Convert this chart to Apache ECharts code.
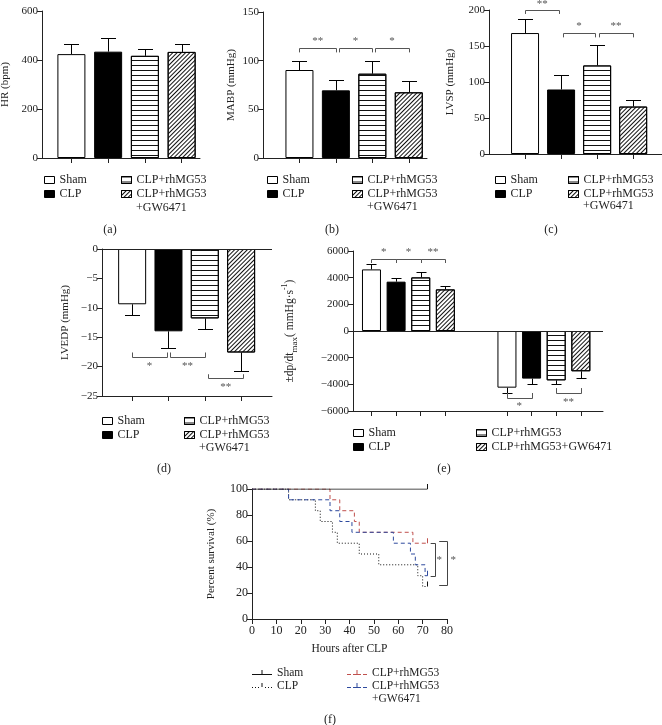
<!DOCTYPE html>
<html><head><meta charset="utf-8">
<script src="https://cdn.jsdelivr.net/npm/echarts@6/dist/echarts.min.js"></script>
<style>html,body{margin:0;padding:0;background:#fff}#c{width:662px;height:725px}</style>
</head><body><div id="c"></div>
<script>
// ---------------- data ----------------
const groups = ['Sham', 'CLP', 'CLP+rhMG53', 'CLP+rhMG53+GW6471'];
const barPos = [1, 2, 3, 4];

const hrMean = [424, 434, 417, 433];
const hrSD = [40, 57, 28, 34];
const hrTicks = [0, 200, 400, 600];

const mabpMean = [90.4, 69.5, 86.6, 67.5];
const mabpSD = [9.6, 10.6, 13.4, 12.0];
const mabpTicks = [0, 50, 100, 150];
// brackets: [x1, x2, lineY, tickEndY, labelY]
const mabpBrackets = [[1, 2, 113, 108.5, 120], [2.08, 3, 113, 108.5, 120], [3.08, 4, 113, 108.5, 120]];
const mabpStars = ['**', '*', '*'];

const lvspMean = [168, 89.6, 123, 65.9];
const lvspSD = [19.5, 20.4, 29, 9.3];
const lvspTicks = [0, 50, 100, 150, 200];
const lvspBrackets = [[1, 1.95, 200, 194.5, 208], [2.05, 2.95, 167.5, 162, 177], [3.05, 4, 167.5, 162, 177]];
const lvspStars = ['**', '*', '**'];

const lvedpMean = [-9.4, -14.0, -11.8, -17.6];
const lvedpSD = [1.8, 2.8, 1.8, 3.1];
const lvedpTicks = [0, -5, -10, -15, -20, -25];
const lvedpBrackets = [[1, 1.95, -18.4, -17.6, -19.9], [2.05, 3, -18.4, -17.6, -19.9], [3.1, 4.05, -21.9, -21.3, -23.5]];
const lvedpStars = ['*', '**', '**'];

const dpMaxPos = [1, 2, 3, 4];
const dpMinPos = [6.5, 7.5, 8.5, 9.5];
const dpMaxMean = [4620, 3700, 4020, 3120];
const dpMaxSD = [380, 250, 430, 250];
const dpMinMean = [-4250, -3570, -3700, -3020];
const dpMinSD = [400, 380, 300, 480];
const dpTicks = [-6000, -4000, -2000, 0, 2000, 4000, 6000];
const dpBrackets = [[1, 2, 5400, 5100, 5900], [2, 3, 5400, 5100, 5900], [3, 4, 5400, 5100, 5900],
                    [6.5, 7.5, -5020, -4650, -5600], [8.5, 9.5, -4620, -4280, -5300]];
const dpStars = ['*', '*', '**', '*', '**'];

const shamHours = [0, 72];
const shamSurv = [100, 100];
const clpHours = [0, 15, 26, 28, 33, 35, 44, 52, 68, 70, 72];
const clpSurv = [100, 91.7, 83.3, 75, 66.7, 58.3, 50, 41.7, 33.3, 25, 25];
const rhHours = [0, 32, 36, 42, 44, 66, 72];
const rhSurv = [100, 91.7, 83.3, 75, 66.7, 58.3, 58.3];
const gwHours = [0, 15, 32, 36, 41, 58, 65, 67, 71, 72];
const gwSurv = [100, 91.7, 83.3, 75, 66.7, 58.3, 50, 41.7, 33.3, 33.3];
// vertical brackets: [x, y1, y2, tickEndX, labelX, labelY]
const survBrackets = [[75, 58.3, 33.3, 73.3, 76.8, 45], [80, 60, 26, 76.8, 82.6, 45]];
const survStars = ['*', '*'];

// ---------------- styling ----------------
const FONT = 'Liberation Serif';
const INK = '#222';
const decalH = {symbol: 'rect', symbolSize: 1, color: '#111', dashArrayX: [1, 0], dashArrayY: [1, 4], rotation: 0};
const decalD = {symbol: 'rect', symbolSize: 1, color: '#111', dashArrayX: [1, 0], dashArrayY: [1, 2], rotation: -Math.PI / 4};
const barStyles = [
  {color: '#fff', borderColor: '#000', borderWidth: 1},
  {color: '#000', borderColor: '#000', borderWidth: 1},
  {color: '#fff', borderColor: '#000', borderWidth: 1, decal: decalH},
  {color: '#fff', borderColor: '#000', borderWidth: 1, decal: decalD}
];
const minus = v => String(v).replace('-', '\u2212');
const crisp = v => Math.round(v) + 0.5;
const TICK_SYMBOL = 'path://M0,0h2v10h-2z';
// legend icons for the survival curves (line + censor tick)
const ICON_TICK = ' M9.5,0h1v4h-1z';
const ICON_SOLID = 'path://M0,4h20v1h-20z' + ICON_TICK;
const ICON_DOTTED = 'path://M0,4h1v1h-1z M3,4h1v1h-1z M6,4h1v1h-1z M13,4h1v1h-1z M16,4h1v1h-1z M19,4h1v1h-1z' + ICON_TICK;
const ICON_DASHED = 'path://M0,4h4v1h-4z M6,4h4v1h-4z M10,4h4v1h-4z M16,4h4v1h-4z' + ICON_TICK;

const grids = [
  {left: 42, top: 11, width: 158, height: 147},
  {left: 263, top: 12, width: 164, height: 146},
  {left: 489, top: 10, width: 173, height: 144},
  {left: 102, top: 249, width: 170, height: 147},
  {left: 353, top: 251, width: 250, height: 160},
  {left: 252, top: 489, width: 195, height: 130}
].map(g => Object.assign({outerBoundsMode: 'none', containLabel: false}, g));

function yAx(gi, ticks, name, nameGap, fs) {
  const iv = Math.abs(ticks[1] - ticks[0]);
  return {type: 'value', gridIndex: gi, min: Math.min(...ticks), max: Math.max(...ticks), interval: iv,
    name: name, nameLocation: 'middle', nameGap: nameGap, nameRotate: 90, nameMoveOverlap: false,
    nameTextStyle: {fontFamily: FONT, fontSize: 11, color: INK},
    axisLine: {show: true, onZero: false, lineStyle: {color: INK, width: 1}},
    axisTick: {show: true, length: 5, lineStyle: {color: INK}},
    axisLabel: {fontFamily: FONT, fontSize: fs || 11, color: INK, margin: 4, formatter: minus},
    splitLine: {show: false}};
}
function xAx(gi, min, max, tickVals) {
  return {type: 'value', gridIndex: gi, min: min, max: max,
    axisLine: {show: true, onZero: false, lineStyle: {color: INK, width: 1}},
    axisTick: {show: true, length: 5, customValues: tickVals, lineStyle: {color: INK}},
    axisLabel: {show: false, customValues: tickVals}, splitLine: {show: false}};
}

function errRender(capHalf) {
  return function (params, api) {
    const x = api.value(0), m = api.value(1), s = api.value(2);
    const dir = m >= 0 ? 1 : -1;
    const p0 = api.coord([x, m]), p1 = api.coord([x, m + dir * s]);
    const cx = crisp(p0[0]), y1 = crisp(p1[1]);
    return {type: 'group', children: [
      {type: 'line', shape: {x1: cx, y1: p0[1], x2: cx, y2: y1}, style: {stroke: '#000', lineWidth: 1}},
      {type: 'line', shape: {x1: cx - capHalf, y1: y1, x2: cx + capHalf, y2: y1}, style: {stroke: '#000', lineWidth: 1}}
    ]};
  };
}
function bracketRender(stars) {
  return function (params, api) {
    const x1 = api.value(0), x2 = api.value(1), y = api.value(2), yt = api.value(3), yl = api.value(4);
    const a = api.coord([x1, y]), b = api.coord([x2, y]), t = api.coord([x1, yt]), l = api.coord([(x1 + x2) / 2, yl]);
    const yy = crisp(a[1]);
    const st = {stroke: '#555', lineWidth: 1};
    return {type: 'group', children: [
      {type: 'line', shape: {x1: crisp(a[0]), y1: yy, x2: crisp(b[0]), y2: yy}, style: st},
      {type: 'line', shape: {x1: crisp(a[0]), y1: yy, x2: crisp(a[0]), y2: t[1]}, style: st},
      {type: 'line', shape: {x1: crisp(b[0]), y1: yy, x2: crisp(b[0]), y2: t[1]}, style: st},
      {type: 'text', style: {text: stars[params.dataIndex], x: l[0], y: l[1], align: 'center', verticalAlign: 'middle',
        fontFamily: FONT, fontSize: 11, fill: '#555'}}
    ]};
  };
}
function vBracketRender(stars) {
  return function (params, api) {
    const x = api.value(0), y1 = api.value(1), y2 = api.value(2), xt = api.value(3), xl = api.value(4), yl = api.value(5);
    const a = api.coord([x, y1]), b = api.coord([x, y2]), t = api.coord([xt, y1]), l = api.coord([xl, yl]);
    const xx = crisp(a[0]);
    const st = {stroke: '#444', lineWidth: 1};
    return {type: 'group', children: [
      {type: 'line', shape: {x1: xx, y1: crisp(a[1]), x2: xx, y2: crisp(b[1])}, style: st},
      {type: 'line', shape: {x1: xx, y1: crisp(a[1]), x2: t[0], y2: crisp(a[1])}, style: st},
      {type: 'line', shape: {x1: xx, y1: crisp(b[1]), x2: t[0], y2: crisp(b[1])}, style: st},
      {type: 'text', style: {text: stars[params.dataIndex], x: l[0], y: l[1], align: 'center', verticalAlign: 'middle',
        fontFamily: FONT, fontSize: 11, fill: '#555'}}
    ]};
  };
}

const series = [];
function barPanel(gi, prefix, posArr, meanArr, sdArr, width, cap, extra) {
  groups.forEach((g, k) => {
    const data = [[posArr[k], meanArr[k]]];
    if (extra) data.push([extra.pos[k], extra.mean[k]]);
    const s = {type: 'bar', name: prefix + ':' + g, xAxisIndex: gi, yAxisIndex: gi, data: data,
      barWidth: width, barGap: '-100%', itemStyle: barStyles[k], z: 3};
    if (k === 0 && (extra || prefix === 'd')) {
      s.markLine = {silent: true, symbol: 'none', label: {show: false}, animation: false,
        lineStyle: {color: INK, type: 'solid', width: 1}, data: [{yAxis: 0}]};
    }
    series.push(s);
  });
  const errData = posArr.map((x, i) => [x, meanArr[i], sdArr[i]]);
  if (extra) extra.pos.forEach((x, i) => errData.push([x, extra.mean[i], extra.sd[i]]));
  series.push({type: 'custom', xAxisIndex: gi, yAxisIndex: gi, data: errData, renderItem: errRender(cap), clip: false, z: 2, silent: true});
}
function bracketSeries(gi, rows, stars) {
  series.push({type: 'custom', xAxisIndex: gi, yAxisIndex: gi, data: rows, renderItem: bracketRender(stars), clip: false, z: 4, silent: true});
}

barPanel(0, 'a', barPos, hrMean, hrSD, 28, 7.5);
barPanel(1, 'b', barPos, mabpMean, mabpSD, 28, 7.5);
bracketSeries(1, mabpBrackets, mabpStars);
barPanel(2, 'c', barPos, lvspMean, lvspSD, 28, 7.5);
bracketSeries(2, lvspBrackets, lvspStars);
barPanel(3, 'd', barPos, lvedpMean, lvedpSD, 28, 7.5);
bracketSeries(3, lvedpBrackets, lvedpStars);
barPanel(4, 'e', dpMaxPos, dpMaxMean, dpMaxSD, 19, 5, {pos: dpMinPos, mean: dpMinMean, sd: dpMinSD});
bracketSeries(4, dpBrackets, dpStars);

// step curves; only the last (censored) point carries a small tick mark
function kmData(hours, surv) {
  return hours.map((h, i) => i === hours.length - 1
    ? {value: [h, surv[i]], symbolOffset: [0, -2.5]}
    : {value: [h, surv[i]], symbol: 'none'});
}
const kmDefs = [
  ['f:CLP', clpHours, clpSurv, '#111', [1, 2]],
  ['f:CLP+rhMG53', rhHours, rhSurv, '#c0504d', [4, 3]],
  ['f:CLP+rhMG53+GW6471', gwHours, gwSurv, '#2e4a9e', [4, 3]],
  ['f:Sham', shamHours, shamSurv, '#111', 'solid']
];
kmDefs.forEach(d => {
  series.push({type: 'line', name: d[0], xAxisIndex: 5, yAxisIndex: 5, step: 'end', data: kmData(d[1], d[2]),
    symbol: TICK_SYMBOL, symbolSize: 5, symbolKeepAspect: true, showSymbol: true, itemStyle: {color: d[3]},
    lineStyle: {color: d[3], width: 1, type: d[4]}, z: d[0] === 'f:Sham' ? 6 : 5, silent: true});
});
series.push({type: 'custom', xAxisIndex: 5, yAxisIndex: 5, data: survBrackets, renderItem: vBracketRender(survStars), clip: false, z: 6, silent: true});

const stripName = n => n.split(':')[1];
const firstLine = n => n.split(':')[1].replace('+GW6471', '');
function legendCfg(names, left, top, opts) {
  return Object.assign({data: names, left: left, top: top, orient: 'vertical', padding: 0, itemGap: 0,
    itemWidth: 10, itemHeight: 7, icon: 'rect', selectedMode: false,
    textStyle: {fontFamily: FONT, fontSize: 12, color: INK, lineHeight: 14},
    formatter: stripName, itemStyle: {borderColor: '#000', borderWidth: 1}}, opts || {});
}
const legends = [];
[['a', 44, 121, 173], ['b', 267, 352, 173], ['c', 495, 568, 173], ['d', 102, 184, 414]].forEach(p => {
  legends.push(legendCfg([p[0] + ':Sham', p[0] + ':CLP'], p[1], p[3]));
  legends.push(legendCfg([p[0] + ':CLP+rhMG53', p[0] + ':CLP+rhMG53+GW6471'], p[2], p[3], {formatter: firstLine}));
});
legends.push(legendCfg(['e:Sham', 'e:CLP'], 353, 426));
legends.push(legendCfg(['e:CLP+rhMG53', 'e:CLP+rhMG53+GW6471'], 476, 426));
const lineLegend = {itemWidth: 20, itemHeight: 5, itemStyle: {borderWidth: 0}, lineStyle: {width: 0},
  textStyle: {fontFamily: FONT, fontSize: 11.5, color: INK, lineHeight: 13}};
legends.push(legendCfg([{name: 'f:Sham', icon: ICON_SOLID}, {name: 'f:CLP', icon: ICON_DOTTED}], 252, 666, lineLegend));
legends.push(legendCfg([{name: 'f:CLP+rhMG53', icon: ICON_DASHED}, {name: 'f:CLP+rhMG53+GW6471', icon: ICON_DASHED}], 347, 666,
  Object.assign({}, lineLegend, {formatter: firstLine})));
legends.slice(-2).forEach(l => { delete l.icon; });

const textStyle = {fontFamily: FONT, fontSize: 12, fill: INK};
const txt = (t, x, y, extra) => ({type: 'text', x: x, y: y, style: Object.assign({text: t, verticalAlign: 'middle'}, textStyle, extra || {})});
const graphics = [
  txt('+GW6471', 136, 208),
  txt('+GW6471', 367, 207),
  txt('+GW6471', 583, 206),
  txt('+GW6471', 199, 448),
  txt('+GW6471', 372, 699, {fontSize: 11.5}),
  txt('(a)', 110, 230, {align: 'center'}),
  txt('(b)', 332, 230, {align: 'center'}),
  txt('(c)', 551, 230, {align: 'center'}),
  txt('(d)', 164, 469, {align: 'center'}),
  txt('(e)', 444, 469, {align: 'center'}),
  txt('(f)', 330, 720, {align: 'center'})
];

const dpName = '{a|\u00b1dp/dt}{s|max}{a|( mmHg\u00b7s}{p|-1}{a|)}';
const yAxes = [
  yAx(0, hrTicks, 'HR (bpm)', 31),
  yAx(1, mabpTicks, 'MABP (mmHg)', 26),
  yAx(2, lvspTicks, 'LVSP (mmHg)', 33),
  yAx(3, lvedpTicks, 'LVEDP (mmHg)', 31),
  yAx(4, dpTicks, dpName, 54),
  yAx(5, [0, 20, 40, 60, 80, 100], 'Percent survival (%)', 35, 12)
];
yAxes[4].nameTextStyle = {fontFamily: FONT, fontSize: 11, color: INK, rich: {
  a: {fontFamily: FONT, fontSize: 11.5, color: INK, lineHeight: 18},
  s: {fontFamily: FONT, fontSize: 9, color: INK, lineHeight: 9, verticalAlign: 'bottom'},
  p: {fontFamily: FONT, fontSize: 8, color: INK, lineHeight: 8, verticalAlign: 'top'}}};

const xAxes = [
  xAx(0, 0.2, 4.5, barPos),
  xAx(1, 0, 4.5, barPos),
  xAx(2, 0, 4.8, barPos),
  xAx(3, 0.17, 4.85, barPos),
  xAx(4, 0.25, 10.4, dpMaxPos.concat(dpMinPos)),
  {type: 'value', gridIndex: 5, min: 0, max: 80, interval: 10, name: 'Hours after CLP', nameLocation: 'middle', nameGap: 24,
    nameTextStyle: {fontFamily: FONT, fontSize: 11.5, color: INK},
    axisLine: {show: true, onZero: false, lineStyle: {color: INK, width: 1}},
    axisTick: {show: true, length: 5, lineStyle: {color: INK}},
    axisLabel: {fontFamily: FONT, fontSize: 12, color: INK, margin: 6}, splitLine: {show: false}}
];

const chart = echarts.init(document.getElementById('c'), null, {renderer: 'canvas'});
chart.setOption({
  animation: false,
  backgroundColor: '#fff',
  grid: grids,
  xAxis: xAxes,
  yAxis: yAxes,
  legend: legends,
  series: series,
  graphic: graphics
});
</script></body></html>
